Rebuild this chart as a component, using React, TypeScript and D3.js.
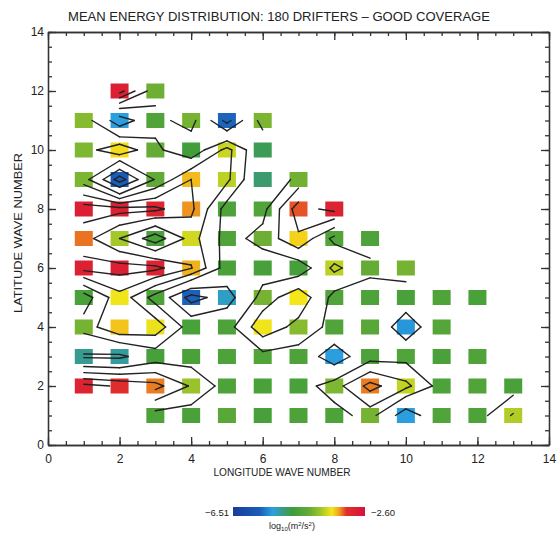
import React, { useEffect, useRef } from "react";
import * as d3 from "d3";

// wave numbers on the grid
const lonWaves = [1, 2, 3, 4, 5, 6, 7, 8, 9, 10, 11, 12, 13];
const latWaves = [1, 2, 3, 4, 5, 6, 7, 8, 9, 10, 11, 12];

// log10 mean energy (m²/s²), one array per latitude wave number, columns = lon 1..13
const lat12 = [null, -2.88, -4.2, null, null, null, null, null, null, null, null, null, null];
const lat11 = [-4.05, -5.35, -4.5, -4.15, -5.68, -4.12, null, null, null, null, null, null, null];
const lat10 = [-4.1, -3.55, -4.25, -4.7, -3.75, -4.85, null, null, null, null, null, null, null];
const lat9 = [-4.12, -5.75, -4.3, -3.45, -3.8, -4.95, -4.18, null, null, null, null, null, null];
const lat8 = [-2.85, -2.9, -2.95, -3.35, -4.55, -4.5, -3.22, -2.92, null, null, null, null, null];
const lat7 = [-3.28, -3.9, -4.6, -3.72, -4.52, -4.2, -3.52, -4.48, -4.55, null, null, null, null];
const lat6 = [-2.9, -2.88, -2.93, -3.42, -4.58, -4.62, -4.65, -3.8, -4.25, -4.15, null, null, null];
const lat5 = [-4.6, -3.6, -4.55, -5.7, -5.25, -4.15, -3.58, -4.5, -4.55, -4.58, -4.52, -4.6, null];
const lat4 = [-4.15, -3.48, -3.62, -4.6, -4.55, -3.6, -4.05, -4.5, -4.4, -5.4, -4.45, null, null];
const lat3 = [-5.08, -5.12, -4.62, -4.58, -4.55, -4.5, -4.55, -5.35, -4.55, -4.5, -4.58, -4.52, null];
const lat2 = [-2.92, -3.1, -3.3, -3.95, -4.55, -4.58, -4.6, -4.1, -3.3, -3.78, -4.55, -4.5, -4.58];
const lat1 = [null, null, -4.55, -4.58, -4.4, -4.62, -4.55, -4.55, -4.15, -5.35, -4.5, -4.55, -3.85];

const energyRows = [lat1, lat2, lat3, lat4, lat5, lat6, lat7, lat8, lat9, lat10, lat11, lat12];

const contourLevels = [-5.5, -5.0, -4.35, -3.9, -3.45, -3.05];

const colorMin = -6.51;
const colorMax = -2.6;
const colorStops = [-6.51, -5.73, -5.34, -5.02, -4.75, -4.24, -3.93, -3.58, -3.38, -3.15, -2.6];
const colorValues = ["#1a3c9a", "#1a5cb8", "#2aa0e0", "#3a9a80", "#3d9c3b", "#66ac36", "#9cc42a", "#f5e61a", "#f0a41e", "#e0302a", "#d8103c"];

const majorTicks = [0, 2, 4, 6, 8, 10, 12, 14];
const minorTicks = d3.range(0, 14.01, 0.5);

const W = 558;
const H = 535;
const left = 48, right = 549, top = 32, bottom = 445;
const font = "'Liberation Sans', Arial, Helvetica, sans-serif";

function contourSegments() {
  const segs: number[][][] = [];
  const val = (i: number, j: number) => {
    const row = energyRows[j - 1];
    if (!row) return null;
    const v = row[i - 1];
    return v == null ? null : v;
  };
  for (let j = 1; j < latWaves.length; j++) {
    for (let i = 1; i < lonWaves.length; i++) {
      const v00 = val(i, j), v10 = val(i + 1, j), v11 = val(i + 1, j + 1), v01 = val(i, j + 1);
      if (v00 == null || v10 == null || v11 == null || v01 == null) continue;
      for (const t of contourLevels) {
        const cross = (xa: number, ya: number, va: number, xb: number, yb: number, vb: number) => {
          if ((va < t) === (vb < t)) return null;
          const f = (t - va) / (vb - va);
          return [xa + f * (xb - xa), ya + f * (yb - ya)];
        };
        const b = cross(i, j, v00, i + 1, j, v10);
        const r = cross(i + 1, j, v10, i + 1, j + 1, v11);
        const tp = cross(i, j + 1, v01, i + 1, j + 1, v11);
        const l = cross(i, j, v00, i, j + 1, v01);
        const pts = [b, r, tp, l].filter((p) => p) as number[][];
        if (pts.length === 2) segs.push(pts);
        else if (pts.length === 4) {
          const c = (v00 + v10 + v11 + v01) / 4;
          if ((c < t) === (v00 < t)) {
            segs.push([b!, r!]);
            segs.push([tp!, l!]);
          } else {
            segs.push([b!, l!]);
            segs.push([r!, tp!]);
          }
        }
      }
    }
  }
  return segs;
}

export default function App() {
  const axesRef = useRef<SVGGElement>(null);

  const x = d3.scaleLinear().domain([0, 14]).range([left, right]);
  const y = d3.scaleLinear().domain([0, 14]).range([bottom, top]);
  const color = d3.scaleLinear<string>().domain(colorStops).range(colorValues).clamp(true);
  const cbar = d3.scaleLinear().domain([colorMin, colorMax]).range([233, 365]);

  const line = d3.line<number[]>().x((d) => x(d[0])).y((d) => y(d[1]));
  const segs = contourSegments();

  const cells: { lon: number; lat: number; v: number }[] = [];
  energyRows.forEach((row, j) =>
    row.forEach((v, i) => {
      if (v != null) cells.push({ lon: lonWaves[i], lat: latWaves[j], v });
    })
  );

  useEffect(() => {
    const g = d3.select(axesRef.current);
    g.selectAll("*").remove();
    const fmt = d3.format("d");

    const addAxis = (axis: any, tr: string, labels: boolean, pad: number) => {
      const a = g.append("g").attr("transform", tr);
      a.call(axis.tickValues(minorTicks).tickSize(-4).tickSizeOuter(0).tickFormat(() => ""));
      const b = g.append("g").attr("transform", tr);
      b.call(
        axis
          .tickValues(majorTicks)
          .tickSize(-8)
          .tickSizeOuter(0)
          .tickPadding(pad)
          .tickFormat(labels ? fmt : () => "")
      );
      [a, b].forEach((s) => {
        s.selectAll("path").attr("stroke", "#333").attr("stroke-width", 1.3);
        s.selectAll("line").attr("stroke", "#333").attr("stroke-width", 1.3);
        s.selectAll("text").attr("fill", "#222").style("font-family", font).style("font-size", "12px");
      });
    };

    addAxis(d3.axisBottom(x), `translate(0,${bottom})`, true, 9);
    addAxis(d3.axisTop(x), `translate(0,${top})`, false, 0);
    addAxis(d3.axisLeft(y), `translate(${left},0)`, true, 4);
    addAxis(d3.axisRight(y), `translate(${right},0)`, false, 0);
  }, []);

  const sqW = 18, sqH = 15;

  return (
    <div style={{ position: "absolute", left: 0, top: 0 }}>
      <svg width={W} height={H} style={{ display: "block", background: "#fff" }}>
        <defs>
          <linearGradient id="cbar" x1="0" x2="1" y1="0" y2="0">
            {colorStops.map((s, i) => (
              <stop key={i} offset={(s - colorMin) / (colorMax - colorMin)} stopColor={colorValues[i]} />
            ))}
          </linearGradient>
        </defs>
        <text x={279} y={21} textAnchor="middle" fontFamily={font} fontSize={13.5} fill="#222" textLength={422} lengthAdjust="spacingAndGlyphs">
          MEAN ENERGY DISTRIBUTION: 180 DRIFTERS – GOOD COVERAGE
        </text>

        {cells.map((c, i) => (
          <rect key={i} x={x(c.lon) - sqW / 2} y={y(c.lat) - sqH / 2} width={sqW} height={sqH} fill={color(c.v)} />
        ))}

        <g fill="none" stroke="#222" strokeWidth={1.4} strokeLinecap="round">
          {segs.map((s, i) => (
            <path key={i} d={line(s) || ""} />
          ))}
        </g>

        <g ref={axesRef} />

        <text x={282} y={476} textAnchor="middle" fontFamily={font} fontSize={10.5} fill="#222" textLength={137} lengthAdjust="spacingAndGlyphs">
          LONGITUDE WAVE NUMBER
        </text>
        <text transform="translate(22,233) rotate(-90)" textAnchor="middle" fontFamily={font} fontSize={11} fill="#222" textLength={160} lengthAdjust="spacingAndGlyphs">
          LATITUDE WAVE NUMBER
        </text>

        <rect x={cbar(colorMin)} y={507} width={cbar(colorMax) - cbar(colorMin)} height={9} fill="url(#cbar)" />
        <text x={229} y={516} textAnchor="end" fontFamily={font} fontSize={9.5} fill="#222">
          −6.51
        </text>
        <text x={371} y={516} textAnchor="start" fontFamily={font} fontSize={9.5} fill="#222">
          −2.60
        </text>
        <text x={292} y={529} textAnchor="middle" fontFamily={font} fontSize={9} fill="#222">
          log
          <tspan fontSize={6} dy={2}>10</tspan>
          <tspan dy={-2}>(m</tspan>
          <tspan fontSize={6} dy={-3}>2</tspan>
          <tspan dy={3}>/s</tspan>
          <tspan fontSize={6} dy={-3}>2</tspan>
          <tspan dy={3}>)</tspan>
        </text>
      </svg>
    </div>
  );
}
